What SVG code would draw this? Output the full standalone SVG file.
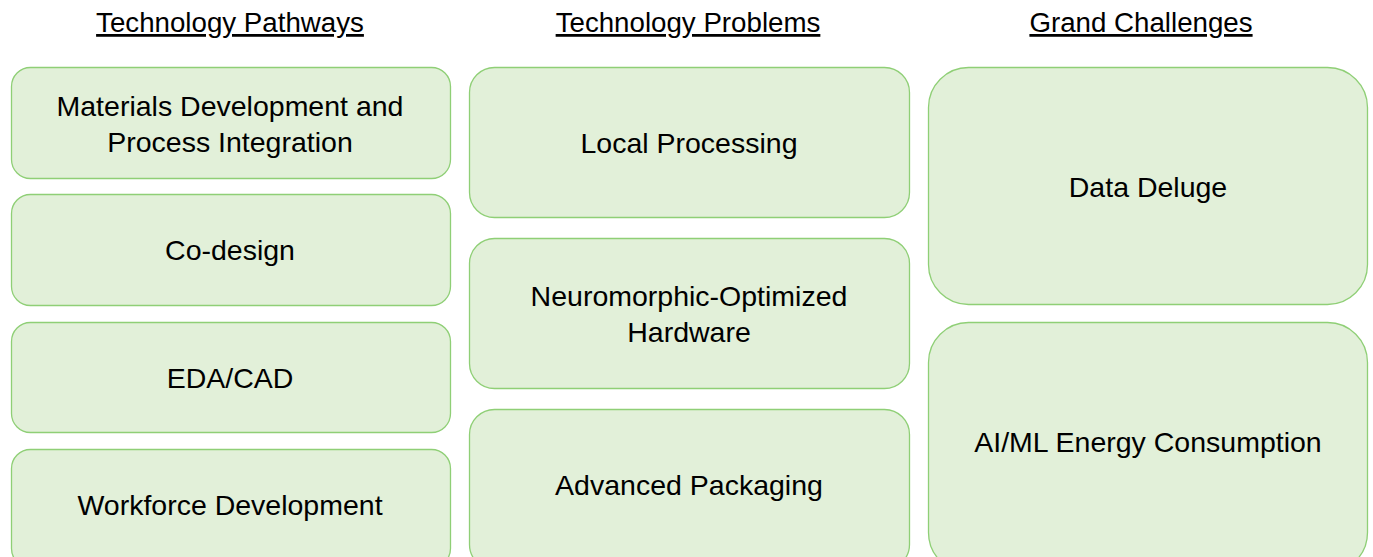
<svg xmlns="http://www.w3.org/2000/svg" width="1373" height="557" viewBox="0 0 1373 557">
<style>
.box{fill:#e2f0d9;stroke:#8fcf76;stroke-width:1.3}
.t{font-family:"Liberation Sans",Arial,sans-serif;font-size:28.5px;fill:#000;text-anchor:middle}
.h{font-family:"Liberation Sans",Arial,sans-serif;font-size:27.7px;fill:#000;text-anchor:middle;text-decoration:underline}
</style>
<rect width="1373" height="557" fill="#fff"/>
<g id="headings">
<text class="h" x="230" y="32">Technology Pathways</text>
<text class="h" x="688" y="32">Technology Problems</text>
<text class="h" x="1141" y="32">Grand Challenges</text>
</g>
<g id="n1"><rect class="box" x="11.5" y="67.5" width="439" height="111" rx="19"/><text class="t" x="230" y="116">Materials Development and</text><text class="t" x="230" y="152">Process Integration</text></g>
<g id="n2"><rect class="box" x="11.5" y="194.5" width="439" height="111" rx="19"/><text class="t" x="230" y="260">Co-design</text></g>
<g id="n3"><rect class="box" x="11.5" y="322.5" width="439" height="110" rx="19"/><text class="t" x="230" y="388">EDA/CAD</text></g>
<g id="n4"><rect class="box" x="11.5" y="449.5" width="439" height="118" rx="19"/><text class="t" x="230" y="515">Workforce Development</text></g>
<g id="n5"><rect class="box" x="469.5" y="67.5" width="440" height="150" rx="25"/><text class="t" x="689" y="153">Local Processing</text></g>
<g id="n6"><rect class="box" x="469.5" y="238.5" width="440" height="150" rx="25"/><text class="t" x="689" y="306">Neuromorphic-Optimized</text><text class="t" x="689" y="342">Hardware</text></g>
<g id="n7"><rect class="box" x="469.5" y="409.5" width="440" height="160" rx="25"/><text class="t" x="689" y="495">Advanced Packaging</text></g>
<g id="n8"><rect class="box" x="928.5" y="67.5" width="439" height="237" rx="40"/><text class="t" x="1148" y="197">Data Deluge</text></g>
<g id="n9"><rect class="box" x="928.5" y="322.5" width="439" height="250" rx="40"/><text class="t" x="1148" y="452">AI/ML Energy Consumption</text></g>
<g id="connectors"></g>
</svg>
